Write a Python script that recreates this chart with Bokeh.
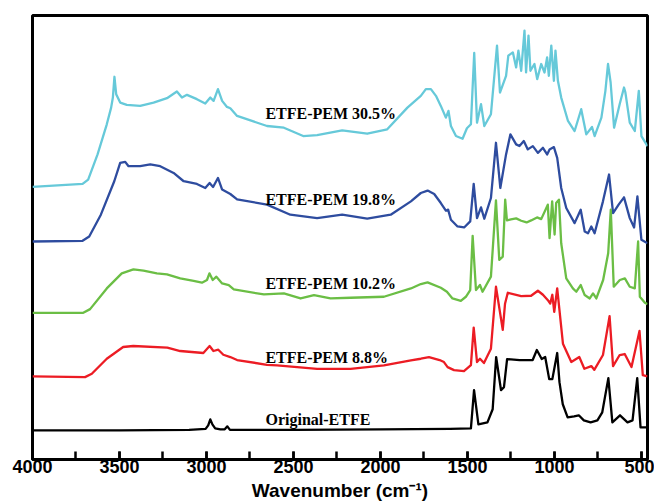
from bokeh.plotting import figure
from bokeh.models import Range1d, SingleIntervalTicker
from bokeh.core.properties import value
from bokeh.embed import file_html
from bokeh.resources import INLINE

# ---- data (wavenumber in cm-1, absorbance in arbitrary offset units) ----
wn_black = [4000, 3500, 3100, 3005, 2990, 2978, 2966, 2950, 2920, 2895, 2880, 2865, 2500, 2000, 1600, 1480,
            1462, 1437, 1385, 1355, 1335, 1307, 1290, 1272, 1200, 1125, 1101, 1073, 1053, 1030,
            1012, 984, 971, 952, 924, 887, 860, 831, 792, 753, 725, 690, 667, 623, 580, 551, 524, 505, 465]
ab_black = [29, 29, 29.5, 30.5, 34, 40, 35, 31, 30, 30, 33, 29.5, 29.5, 30, 30.5, 31,
            69, 35, 37, 50, 102, 69, 72, 100, 99, 99, 109, 100, 102, 80,
            80, 106, 77, 55, 42, 43, 44, 39, 37, 39, 47, 81, 37, 44, 37, 39, 81, 32, 32]

wn_red = [4000, 3698, 3659, 3573, 3479, 3421, 3225, 3151, 3018, 2982, 2960, 2932, 2903, 2863, 2824,
          2652, 2594, 2364, 2172, 1980, 1825, 1768, 1721, 1660, 1635, 1614, 1577, 1520, 1480, 1464,
          1445, 1428, 1405, 1365, 1336, 1297, 1284, 1268, 1191, 1134, 1095, 1066, 1035, 1024, 1012,
          1001, 984, 951, 903, 857, 828, 788, 771, 721, 683, 663, 625, 596, 557, 511, 492, 465]
ab_red = [82.7, 82, 85.3, 100.3, 112, 113, 111.3, 108, 106, 113, 108, 109.3, 104.3, 102, 99,
          94.3, 93.7, 90.3, 90.3, 93.7, 98.7, 100.3, 102, 99, 97, 92, 89, 88, 94, 131.3,
          97, 100.3, 96, 110.3, 172, 129, 155, 166, 162.7, 163, 168, 164, 158, 155.3, 164,
          147, 170.3, 115.3, 97, 102, 90.3, 93, 89.3, 104, 142.7, 93, 104, 105, 92, 128, 84, 82.7]

wn_green = [4000, 3708, 3669, 3573, 3487, 3420, 3362, 3285, 3227, 3151, 3074, 3026, 2997, 2983, 2964,
            2943, 2910, 2872, 2843, 2670, 2555, 2459, 2382, 2287, 2172, 1980, 1825, 1768, 1729, 1653,
            1618, 1586, 1538, 1509, 1484, 1470, 1451, 1428, 1413, 1365, 1336, 1317, 1297, 1283, 1273,
            1250, 1220, 1191, 1160, 1134, 1100, 1076, 1038, 1028, 1013, 999, 990, 974, 961, 932,
            894, 874, 849, 826, 797, 778, 759, 720, 691, 676, 659, 624, 595, 567, 538, 519, 509, 480, 465]
ab_green = [146, 146, 149.7, 170.3, 185.3, 189.3, 188, 185.3, 184.3, 180.3, 177.7, 176, 178.7, 185.3, 178.7,
            182, 175.3, 173.7, 169.3, 164.3, 165.3, 160.3, 163.7, 160.3, 161, 162, 170.3, 174.7, 176.3, 171,
            167, 160.3, 158, 162, 168.7, 222.7, 168.7, 173.7, 167, 182, 258, 198.7, 202, 258.7, 238,
            239, 240, 237.7, 236, 238, 241, 239.3, 253.7, 220.3, 257, 224, 255.3, 258.7, 215.3, 180.3,
            170.3, 167, 173.7, 163.7, 160.3, 165.3, 160.3, 178.7, 205.3, 248.7, 172, 178.7, 180.3, 172, 170.3, 217, 162, 156, 154.7]

wn_blue = [4000, 3712, 3674, 3607, 3530, 3496, 3467, 3448, 3381, 3323, 3266, 3189, 3131, 3055, 3007,
           2982, 2962, 2934, 2910, 2863, 2824, 2652, 2518, 2364, 2220, 2076, 1941, 1825, 1768, 1729,
           1691, 1653, 1624, 1611, 1595, 1557, 1519, 1484, 1464, 1445, 1422, 1403, 1365, 1336, 1311,
           1278, 1253, 1220, 1201, 1176, 1153, 1124, 1095, 1066, 1042, 1028, 1003, 984, 961, 932,
           884, 849, 826, 807, 788, 769, 721, 686, 663, 631, 600, 567, 542, 523, 500, 465]
ab_blue = [217, 217.7, 222, 243.7, 277, 295.3, 296.3, 292, 292, 293.7, 292, 285.3, 277, 274.3, 270.3,
           275.3, 271.3, 280.3, 268.7, 264.3, 259, 253.7, 243.7, 240.3, 243.7, 239.7, 243.7, 257, 265.3, 267.7,
           264.3, 255.3, 247.7, 248.7, 238.7, 232, 231, 237, 274.3, 240.3, 251, 239.7, 260.3, 315.3, 270.3,
           303.7, 323.7, 313.7, 312, 317, 308.7, 312, 305.3, 310.3, 303.7, 308.7, 311, 300.3, 270.3, 250.3,
           235.3, 248.7, 227, 225.3, 232, 225.3, 257, 283.7, 245.3, 253.7, 261, 240.3, 231, 262, 218.7, 215.3]

wn_cyan = [4000, 3712, 3680, 3626, 3573, 3548, 3538, 3529, 3519, 3496, 3458, 3381, 3304, 3227, 3170,
           3141, 3112, 3055, 3007, 2978, 2959, 2934, 2910, 2882, 2863, 2824, 2652, 2555, 2444, 2364,
           2220, 2076, 1961, 1845, 1768, 1739, 1710, 1681, 1653, 1624, 1609, 1595, 1566, 1528, 1503,
           1480, 1461, 1445, 1422, 1403, 1365, 1330, 1313, 1278, 1265, 1239, 1220, 1207, 1191, 1172,
           1163, 1149, 1138, 1115, 1099, 1076, 1057, 1042, 1032, 1018, 1003, 994, 980, 961, 922,
           884, 846, 817, 784, 769, 730, 707, 692, 677, 657, 625, 600, 592, 567, 538, 515, 500, 465]
ab_cyan = [271.3, 274.3, 278.7, 303.7, 333.7, 350.3, 360.3, 381, 363.7, 355.3, 353, 352, 355.3, 359.7, 366.3,
           360.3, 363, 358.7, 354.3, 360.3, 357, 368.7, 357, 351, 349.7, 342, 332, 330.3, 322, 323,
           327.7, 324.3, 328.7, 350.3, 362, 368.7, 368.7, 362, 352, 340.3, 347, 332, 322, 319.3, 329.7,
           333.7, 404.7, 335.3, 353.7, 332, 343.7, 412, 365.3, 382, 402, 405.3, 390.3, 407, 387, 427,
           385.3, 422, 387, 393.7, 378.7, 393.7, 385.3, 400.3, 382, 412, 377, 407, 377, 360.3, 337,
           327, 348.7, 323.7, 331, 322, 340.3, 367, 393.7, 375.3, 330.3, 353.7, 370.3, 365.3, 335.3, 327, 367, 322, 312]

labels = ["ETFE-PEM 30.5%", "ETFE-PEM 19.8%", "ETFE-PEM 10.2%", "ETFE-PEM 8.8%", "Original-ETFE"]
label_x = [2661, 2661, 2661, 2661, 2661]
label_y = [344, 259, 175, 102, 40]

series = [
    (wn_cyan, ab_cyan, "#66C9D9"),
    (wn_blue, ab_blue, "#2E4C9F"),
    (wn_green, ab_green, "#6BBE45"),
    (wn_red, ab_red, "#EC1C24"),
    (wn_black, ab_black, "#000000"),
]

p = figure(width=654, height=503, x_range=Range1d(4000, 465), y_range=Range1d(0, 442),
           output_backend="svg", toolbar_location=None,
           min_border_left=32, min_border_right=7, min_border_top=15, min_border_bottom=10)

for xs, ys, c in series:
    p.line(xs, ys, line_color=c, line_width=2.3, line_join="round")

p.text(x=label_x, y=label_y, text=labels, text_font=value("Liberation Serif"),
       text_font_style="bold", text_font_size="16px", text_baseline="middle",
       text_align="left", text_color="#000000")

p.xgrid.visible = False
p.ygrid.visible = False
p.yaxis.visible = False
p.outline_line_color = "black"
p.outline_line_width = 3
p.outline_line_alpha = 1.0
p.background_fill_color = "white"
p.border_fill_color = "white"

ax = p.xaxis[0]
ax.ticker = SingleIntervalTicker(interval=500, num_minor_ticks=2)
ax.axis_line_width = 3
ax.axis_line_color = "black"
ax.major_tick_in = 8
ax.major_tick_out = 0
ax.minor_tick_in = 8
ax.minor_tick_out = 0
ax.major_tick_line_width = 2.5
ax.minor_tick_line_width = 2.5
ax.major_tick_line_color = "black"
ax.minor_tick_line_color = "black"
ax.major_label_text_font = "Liberation Sans"
ax.major_label_text_font_style = "bold"
ax.major_label_text_font_size = "18px"
ax.major_label_text_color = "black"
ax.major_label_standoff = 0
ax.axis_label = "Wavenumber (cm\u207b\u00b9)"
ax.axis_label_text_font = "Liberation Sans"
ax.axis_label_text_font_style = "bold"
ax.axis_label_text_font_size = "19px"
ax.axis_label_text_color = "black"
ax.axis_label_standoff = 4

open("out.html", "w").write(file_html(p, INLINE))
